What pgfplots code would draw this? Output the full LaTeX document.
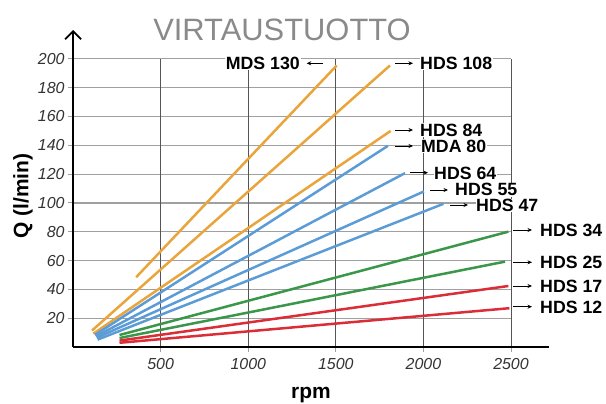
\documentclass[border=0pt]{standalone}
\usepackage{fontspec}
\setmainfont{Liberation Sans}
\usepackage{pgfplots}
\pgfplotsset{compat=1.18}
\usetikzlibrary{arrows.meta}
\definecolor{corange}{RGB}{233,165,60}
\definecolor{cblue}{RGB}{92,156,214}
\definecolor{cgreen}{RGB}{58,150,72}
\definecolor{cred}{RGB}{218,45,55}
\definecolor{hgrid}{RGB}{160,160,160}
\definecolor{vgrid}{RGB}{85,85,85}
\definecolor{titlegray}{RGB}{138,138,138}
\newcommand{\labfont}{\fontsize{17.8}{20}\selectfont\bfseries}
\begin{document}
\begin{tikzpicture}[x=1bp,y=1bp]
\path[use as bounding box] (0,0) rectangle (606,403);
\begin{axis}[
  at={(73.1bp,55.9bp)}, anchor=south west,
  scale only axis, width=475.9bp, height=317.1bp,
  xmin=0, xmax=2717, ymin=0, ymax=220,
  axis line style={draw=none},
  xtick={500,1000,1500,2000,2500},
  ytick={20,40,60,80,100,120,140,160,180,200},
  tick pos=left,
  tick align=outside, major tick length=5bp,
  tick style={hgrid, line width=1bp},
  /pgf/number format/assume math mode=true,
  /pgf/number format/1000 sep={},
  scaled ticks=false,
  ticklabel style={font=\fontsize{16}{18}\selectfont\itshape, text=black!80},
  xticklabel style={yshift=-3bp},
  clip=false,
  every axis plot/.append style={line width=2.5bp, no marks},
]
\pgfplotsinvokeforeach{20,40,60,80,100,120,140,160,180,200}{
  \draw[hgrid, line width=1.1bp] (axis cs:0,#1) -- (axis cs:2500,#1);
}
\pgfplotsinvokeforeach{500,1000,1500,2000,2500}{
  \draw[vgrid, line width=0.7bp] (axis cs:#1,0) -- (axis cs:#1,200);
}
% orange
\addplot[corange] coordinates {(360,48.5) (1505,195.4)};   % MDS 130
\addplot[corange] coordinates {(108,11.5) (1809,195.4)};   % HDS 108
\addplot[corange] coordinates {(115,9.3) (1813,150)};      % HDS 84
% blue
\addplot[cblue] coordinates {(125,8.5) (1797,139.6)};      % MDA 80
\addplot[cblue] coordinates {(130,7.5) (1895,120.7)};      % HDS 64
\addplot[cblue] coordinates {(135,6.5) (2003,108)};        % HDS 55
\addplot[cblue] coordinates {(140,5.2) (2114,99.4)};       % HDS 47
% green
\addplot[cgreen] coordinates {(265,8.4) (2485,80.1)};      % HDS 34
\addplot[cgreen] coordinates {(265,6.3) (2466,59.3)};      % HDS 25
% red
\addplot[cred] coordinates {(265,4.5) (2485,42.4)};        % HDS 17
\addplot[cred] coordinates {(265,3) (2491,27)};            % HDS 12
% axes
\draw[line width=2bp] (axis cs:0,0) -- (axis cs:2717,0);
\draw[line width=1.8bp, -{Straight Barb[length=8bp,width=16bp]}] (axis cs:0,0) -- (axis cs:0,220);
\end{axis}
% labels
\tikzset{lab/.style={font=\labfont, fill=white, inner sep=0.7bp},
         arr/.style={-{Stealth[length=4.5bp,width=4bp]}, line width=0.9bp}}
\draw[arr] (323,339.7) -- (306.7,339.7);
\node[lab, anchor=base east] at (300.7,333.4) {MDS 130};
\draw[arr] (395,339.7) -- (413,339.7);
\node[lab, anchor=base west] at (419.3,333.4) {HDS 108};
\draw[arr] (395,273) -- (413,273);
\node[lab, anchor=base west] at (419.3,266.7) {HDS 84};
\draw[arr] (395,257) -- (413,257);
\node[lab, anchor=base west] at (420.3,250.7) {MDA 80};
\draw[arr] (410,230.3) -- (428,230.3);
\node[lab, anchor=base west] at (433.3,224) {HDS 64};
\draw[arr] (430,213) -- (448,213);
\node[lab, anchor=base west] at (454.3,207.2) {HDS 55};
\draw[arr] (450,198) -- (468,198);
\node[lab, anchor=base west] at (475.3,191.4) {HDS 47};
\draw[arr] (513,173) -- (532,173);
\node[lab, anchor=base west] at (539.3,166.7) {HDS 34};
\draw[arr] (513,140.7) -- (532,140.7);
\node[lab, anchor=base west] at (539.3,134.4) {HDS 25};
\draw[arr] (513,117) -- (532,117);
\node[lab, anchor=base west] at (539.3,110.7) {HDS 17};
\draw[arr] (513,96.3) -- (532,96.3);
\node[lab, anchor=base west] at (539.3,90) {HDS 12};
% titles
\node[anchor=base, font=\fontsize{31}{33}\selectfont, text=titlegray] at (282,363) {VIRTAUSTUOTTO};
\node[anchor=base, font=\fontsize{21}{23}\selectfont\bfseries] at (311,5) {rpm};
\node[anchor=base, rotate=90, font=\fontsize{21}{23}\selectfont\bfseries] at (28.3,207) {Q (l/min)};
\end{tikzpicture}
\end{document}
